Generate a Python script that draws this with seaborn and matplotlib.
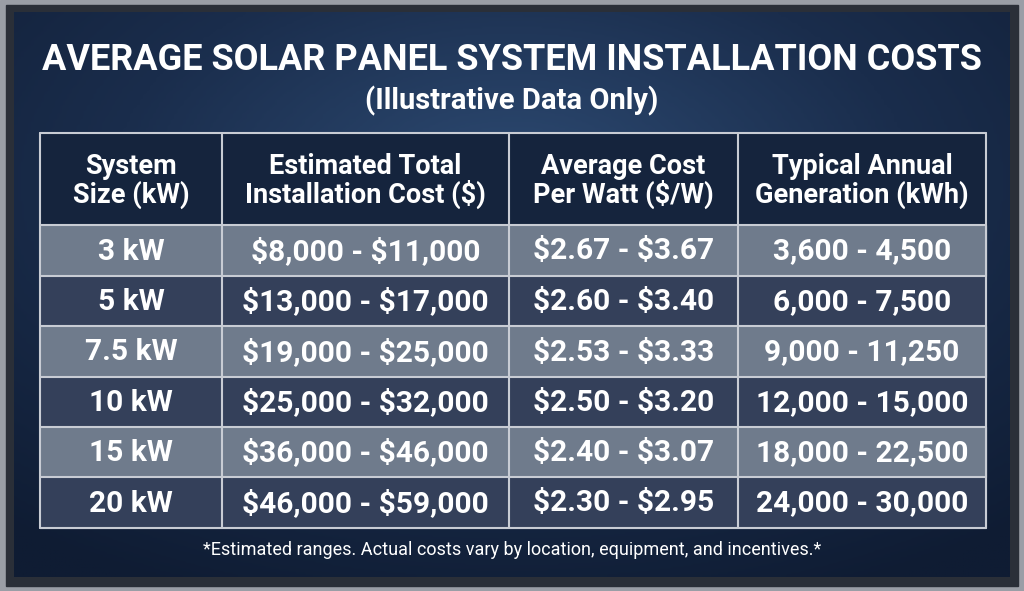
import matplotlib
matplotlib.use("Agg")
import matplotlib.pyplot as plt
import seaborn as sns
import numpy as np
from matplotlib.patches import Rectangle
from matplotlib.colors import LinearSegmentedColormap

sns.set_theme(style="white")
plt.rcParams['font.family'] = ['Roboto', 'DejaVu Sans']
plt.rcParams['text.parse_math'] = False

title = "AVERAGE SOLAR PANEL SYSTEM INSTALLATION COSTS"
subtitle = "(Illustrative Data Only)"
headers = ["System\nSize (kW)", "Estimated Total\nInstallation Cost ($)", "Average Cost\nPer Watt ($/W)", "Typical Annual\nGeneration (kWh)"]
sizes = ["3 kW", "5 kW", "7.5 kW", "10 kW", "15 kW", "20 kW"]
costs = ["$8,000 - $11,000", "$13,000 - $17,000", "$19,000 - $25,000", "$25,000 - $32,000", "$36,000 - $46,000", "$46,000 - $59,000"]
per_watt = ["$2.67 - $3.67", "$2.60 - $3.40", "$2.53 - $3.33", "$2.50 - $3.20", "$2.40 - $3.07", "$2.30 - $2.95"]
generation = ["3,600 - 4,500", "6,000 - 7,500", "9,000 - 11,250", "12,000 - 15,000", "18,000 - 22,500", "24,000 - 30,000"]
footnote = "*Estimated ranges. Actual costs vary by location, equipment, and incentives.*"

W, H = 1024, 591
fig = plt.figure(figsize=(W/100, H/100), dpi=100)
ax = fig.add_axes([0, 0, 1, 1])
ax.set_xlim(0, W); ax.set_ylim(H, 0); ax.axis("off")

ax.add_patch(Rectangle((0, 0), W, H, color="#9a9ea6", zorder=0))
ax.add_patch(Rectangle((6, 5), W-12, H-10, color="#2a2f38", zorder=0))
yy, xx = np.mgrid[0:1:200j, 0:1:300j]
r = np.sqrt((xx-0.5)**2 + (yy-0.3)**2)
img = np.clip(r/0.8, 0, 1)
cmap = LinearSegmentedColormap.from_list("bg", ["#2d4a72", "#1a2d4c", "#0f1c33"])
ax.imshow(img, cmap=cmap, extent=(14, W-14, H-14, 12), aspect="auto", zorder=1)

ax.text(W/2, 60, title, color="white", fontsize=26, fontweight="bold", ha="center", va="center", zorder=5)
ax.text(W/2, 101, subtitle, color="white", fontsize=21, fontweight="bold", ha="center", va="center", zorder=5)

cols = [40, 222, 509, 738, 986]
rows = [133, 225, 276, 326, 377, 427, 477, 528]
ax.add_patch(Rectangle((cols[0], rows[0]), cols[-1]-cols[0], rows[1]-rows[0], color="#15243d", zorder=2))
data = list(zip(sizes, costs, per_watt, generation))
for i, row in enumerate(data):
    y0, y1 = rows[i+1], rows[i+2]
    ax.add_patch(Rectangle((cols[0], y0), cols[-1]-cols[0], y1-y0,
                           color="#6f7b8c" if i % 2 == 0 else "#34405a", zorder=2))
    for j, val in enumerate(row):
        ax.text((cols[j]+cols[j+1])/2, (y0+y1)/2 + 1, val, color="white", fontsize=21.5,
                fontweight="bold", ha="center", va="center", zorder=5)
for j, h in enumerate(headers):
    ax.text((cols[j]+cols[j+1])/2, (rows[0]+rows[1])/2 + 2, h, color="white", fontsize=19.5,
            fontweight="bold", ha="center", va="center", linespacing=1.0, zorder=5)
for x in cols:
    ax.plot([x, x], [rows[0], rows[-1]], color="#c8ccd4", lw=1.5, zorder=4)
for y in rows:
    ax.plot([cols[0], cols[-1]], [y, y], color="#c8ccd4", lw=1.5, zorder=4)

ax.text(W/2, 550, footnote, color="white", fontsize=13, ha="center", va="center", zorder=5)
fig.savefig("out.png", dpi=100)
